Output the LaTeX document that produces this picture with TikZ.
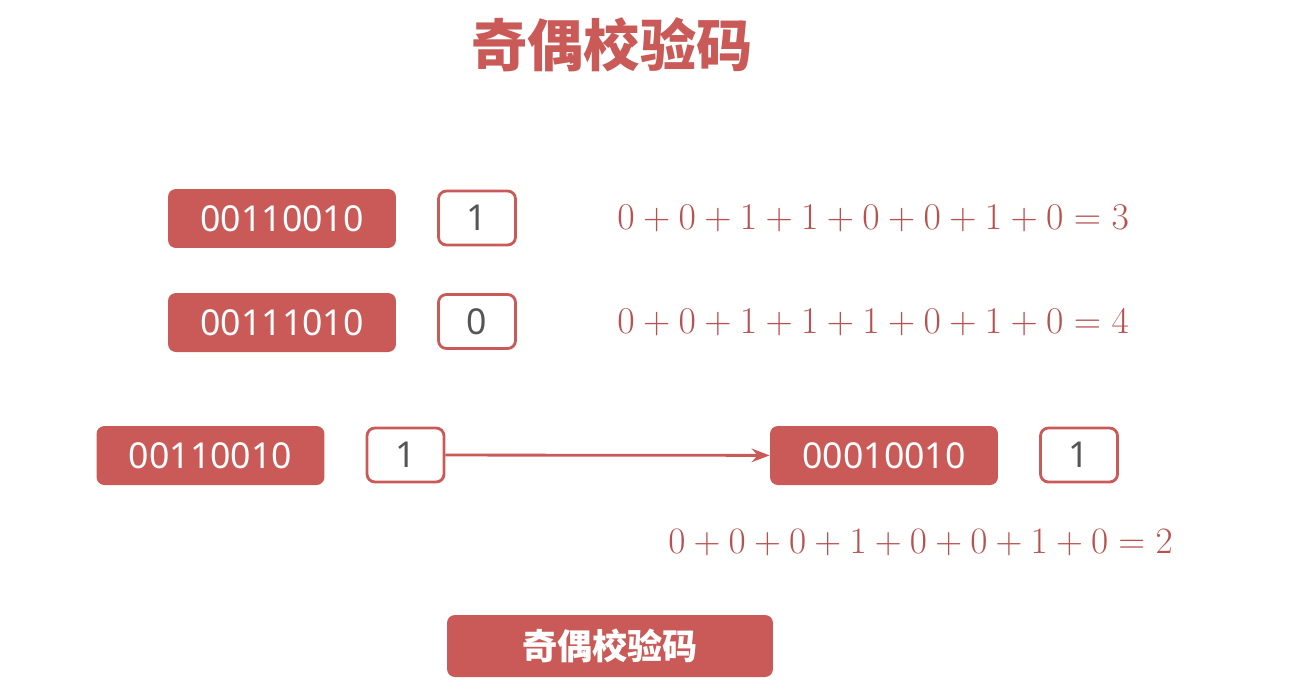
\documentclass[tikz,border=0pt]{standalone}
\usepackage{fix-cm}
\usepackage{fontspec}
\setmainfont{Noto Sans}
\newfontfamily\cjk{Noto Sans CJK SC}
\usetikzlibrary{arrows.meta}

\definecolor{parityred}{RGB}{201,90,87}
\definecolor{sumred}{RGB}{184,82,80}
\definecolor{bitgray}{RGB}{85,85,85}

\tikzset{
  word/.style={fill=parityred, rounded corners=4.5pt, text=white, inner sep=0pt,
    minimum width=4.56cm, minimum height=1.18cm, font=\fontsize{20.3}{24}\selectfont},
  bit/.style={draw=parityred, line width=1.6pt, rounded corners=4.5pt, text=bitgray, inner sep=0pt,
    minimum width=1.54cm, minimum height=1.08cm, font=\fontsize{20.3}{24}\selectfont},
  sum/.style={anchor=west, text=sumred, inner sep=0pt, font=\fontsize{21.5}{24}\selectfont},
}

\begin{document}
\begin{tikzpicture}[x=0.02cm, y=-0.02cm, >=Stealth]
\useasboundingbox (0,0) rectangle (1294,690);

% Title
\node[text=parityred, font=\cjk\bfseries\fontsize{32}{36}\selectfont] (title) at (612,45) {奇偶校验码};

% Even parity example
\node[word] (w1) at (282,218.5) {00110010};
\node[bit]  (p1) at (477,218)   {1};
\node[sum]  (s1) at (617,219)   {$0+0+1+1+0+0+1+0=3$};

% Odd count example
\node[word] (w2) at (282,322.5) {00111010};
\node[bit]  (p2) at (477,321.5) {0};
\node[sum]  (s2) at (617,323)   {$0+0+1+1+1+0+1+0=4$};

% Transmission with one bit flipped
\node[word] (w3) at (210.5,455.5) {00110010};
\node[bit]  (p3) at (405.5,455)   {1};
\node[word] (w4) at (884,455.5)   {00010010};
\node[bit]  (p4) at (1079,455)    {1};
\node[sum, font=\fontsize{21.2}{24}\selectfont] (s3) at (668,543) {$0+0+0+1+0+0+1+0=2$};

\draw[->, draw=parityred, line width=1.6pt] (p3) -- (w4);

% Button
\node[word, minimum width=6.52cm, minimum height=1.24cm, font=\cjk\bfseries\fontsize{20}{24}\selectfont]
  (btn) at (610,646) {奇偶校验码};

\end{tikzpicture}
\end{document}
